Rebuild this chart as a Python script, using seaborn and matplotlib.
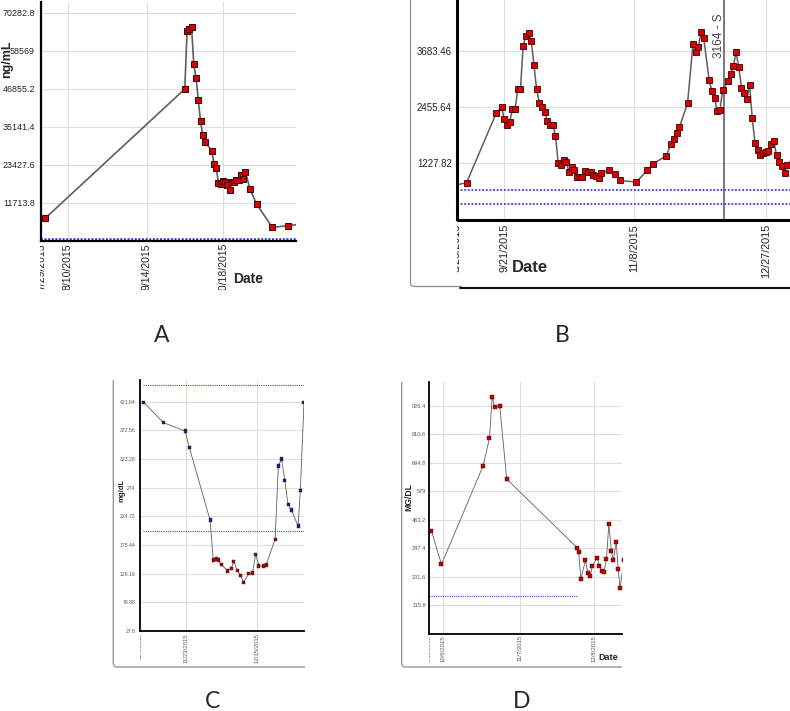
import numpy as np
import pandas as pd
import matplotlib
matplotlib.use('Agg')
import matplotlib.pyplot as plt
import matplotlib.dates as mdates
from matplotlib.patches import Rectangle, PathPatch
from matplotlib.path import Path
import seaborn as sns

# DATA

# panel A  (ng/mL)
a_dates = ['2015-07-31', '2015-10-01', '2015-10-02', '2015-10-03', '2015-10-04', '2015-10-05',
           '2015-10-06', '2015-10-07', '2015-10-08', '2015-10-09', '2015-10-10', '2015-10-13',
           '2015-10-14', '2015-10-15', '2015-10-16', '2015-10-17', '2015-10-18', '2015-10-19',
           '2015-10-20', '2015-10-21', '2015-10-22', '2015-10-23', '2015-10-24', '2015-10-25',
           '2015-10-26', '2015-10-27', '2015-10-28', '2015-10-30', '2015-11-02', '2015-11-09',
           '2015-11-16', '2015-11-30']
a_values = [7090, 46850, 64630, 65350, 66070, 54460, 50350, 43570, 36990, 32570, 30520, 27850,
            23740, 22500, 17780, 17570, 18600, 18080, 17260, 15720, 18080, 18190, 18910, 18700,
            20450, 19010, 21370, 16030, 11300, 4210, 4730, 5900]
a_ref = [600, 300]
a_xticks = ['2015-07-29', '2015-08-10', '2015-09-14', '2015-10-18']
a_xlabels = ['7/29/2015', '8/10/2015', '9/14/2015', '10/18/2015']
a_yticks = [11713.8, 23427.6, 35141.4, 46855.2, 58569, 70282.8]
a_ylabels = ['11713.8', '23427.6', '35141.4', '46855.2', '58569', '70282.8']

# panel B
b_dates = ['2015-08-23', '2015-09-07', '2015-09-18', '2015-09-20', '2015-09-21', '2015-09-22',
           '2015-09-23', '2015-09-24', '2015-09-25', '2015-09-26', '2015-09-27', '2015-09-28',
           '2015-09-29', '2015-09-30', '2015-10-01', '2015-10-02', '2015-10-03', '2015-10-04',
           '2015-10-05', '2015-10-06', '2015-10-07', '2015-10-08', '2015-10-09', '2015-10-10',
           '2015-10-11', '2015-10-12', '2015-10-13', '2015-10-14', '2015-10-15', '2015-10-16',
           '2015-10-17', '2015-10-18', '2015-10-19', '2015-10-20', '2015-10-21', '2015-10-22',
           '2015-10-23', '2015-10-24', '2015-10-25', '2015-10-26', '2015-10-27', '2015-10-30',
           '2015-11-01', '2015-11-03', '2015-11-09', '2015-11-13', '2015-11-15', '2015-11-20',
           '2015-11-22', '2015-11-23', '2015-11-24', '2015-11-25', '2015-11-28', '2015-11-30',
           '2015-12-01', '2015-12-02', '2015-12-03', '2015-12-04', '2015-12-06', '2015-12-07',
           '2015-12-08', '2015-12-09', '2015-12-10', '2015-12-11', '2015-12-13', '2015-12-14',
           '2015-12-15', '2015-12-16', '2015-12-17', '2015-12-18', '2015-12-19', '2015-12-20',
           '2015-12-21', '2015-12-22', '2015-12-23', '2015-12-24', '2015-12-25', '2015-12-26',
           '2015-12-27', '2015-12-28', '2015-12-29', '2015-12-30', '2015-12-31', '2016-01-01',
           '2016-01-02', '2016-01-03', '2016-01-04', '2016-01-06']
b_values = [610, 804, 2324, 2463, 2192, 2075, 2127, 2412, 2412, 2850, 2850, 3800, 4019, 4078,
            3910, 3376, 2850, 2558, 2470, 2353, 2156, 2075, 2075, 1827, 1242, 1191, 1301, 1264,
            1045, 1147, 1082, 935, 935, 935, 1060, 1030, 1030, 972, 950, 899, 1023, 1074, 1001,
            855, 818, 1074, 1213, 1389, 1659, 1769, 1900, 2024, 2543, 3837, 3654, 3764, 4107,
            3968, 3047, 2814, 2667, 2375, 2397, 2828, 3026, 3179, 3362, 3654, 3325, 2887, 2777,
            2631, 2938, 2214, 1681, 1513, 1410, 1462, 1484, 1498, 1644, 1710, 1403, 1257, 1169,
            1023, 1184, 1350]
b_ref = [636, 344]
b_cursor_date = '2015-12-11 12:00'
b_cursor_text = '3164 - S'
b_xticks = ['2015-09-03 11:00', '2015-09-21', '2015-11-08', '2015-12-27']
b_xlabels = ['8/23/2015', '9/21/2015', '11/8/2015', '12/27/2015']
b_yticks = [1227.82, 2455.64, 3683.46]
b_ylabels = ['1227.82', '2455.64', '3683.46']

# panel C  (mg/dL)
c_dates = ['2015-11-09 22:00', '2015-11-16', '2015-11-22 17:00', '2015-11-24', '2015-11-30 10:00',
           '2015-12-01 10:00', '2015-12-02 10:00', '2015-12-03', '2015-12-03 22:00',
           '2015-12-05 22:00', '2015-12-06 22:00', '2015-12-07 19:00', '2015-12-08 19:00',
           '2015-12-09 22:00', '2015-12-10 17:00', '2015-12-12 10:00', '2015-12-13 12:00',
           '2015-12-14 12:00', '2015-12-15 12:00', '2015-12-16 19:00', '2015-12-17 17:00',
           '2015-12-20 12:00', '2015-12-21 12:00', '2015-12-22 12:00', '2015-12-23 12:00',
           '2015-12-24 12:00', '2015-12-25 12:00', '2015-12-27 14:00', '2015-12-28 07:00',
           '2015-12-29 10:00']
c_values = [421.0, 386.0, 371.6, 343.5, 218.5, 149.7, 151.5, 149.7, 141.7, 130.8, 135.4, 146.9,
            131.4, 123.4, 111.3, 126.2, 127.4, 159.5, 139.4, 139.4, 141.1, 185.3, 311.4, 323.5,
            286.2, 244.9, 235.7, 208.2, 269.6, 421.0]
c_ref = [450, 200]
c_xticks = ['2015-11-08 19:00', '2015-11-23', '2015-12-15']
c_xlabels = ['11/9/2015', '11/23/2015', '12/15/2015']
c_yticks = [27.6, 76.88, 126.16, 175.44, 224.72, 274, 323.28, 372.56, 421.84]
c_ylabels = ['27.6', '76.88', '126.16', '175.44', '224.72', '274', '323.28', '372.56', '421.84']

# panel D  (MG/DL)
d_dates = ['2015-10-01', '2015-10-05 05:00', '2015-10-22 14:00', '2015-10-25 07:00',
           '2015-10-26 10:00', '2015-10-27 12:00', '2015-10-29 14:00', '2015-11-01 12:00',
           '2015-11-30 22:00', '2015-12-01 14:00', '2015-12-02 12:00', '2015-12-04 10:00',
           '2015-12-05 10:00', '2015-12-06 10:00', '2015-12-07 07:00', '2015-12-09 07:00',
           '2015-12-10 07:00', '2015-12-11 07:00', '2015-12-12 05:00', '2015-12-13 05:00',
           '2015-12-14 05:00', '2015-12-15 07:00', '2015-12-16 02:00', '2015-12-17 07:00',
           '2015-12-18 02:00', '2015-12-18 22:00', '2015-12-20 12:00']
d_values = [418, 281, 681, 794, 963, 920, 925, 628, 349, 331, 222, 298, 247, 234, 273, 308, 275,
            254, 251, 303, 445, 334, 298, 372, 264, 184, 300]
d_ref = 151
d_ref_end = '2015-11-30 18:00'
d_xticks = ['2015-09-30 03:00', '2015-10-06', '2015-11-07', '2015-12-08']
d_xlabels = ['9/30/2015', '10/6/2015', '11/7/2015', '12/8/2015']
d_yticks = [115.8, 231.6, 347.4, 463.2, 579, 694.8, 810.6, 926.4]
d_ylabels = ['115.8', '231.6', '347.4', '463.2', '579', '694.8', '810.6', '926.4']

panel_letters = ['A', 'B', 'C', 'D']

# STYLE

sns.set_style('white')
plt.rcParams['font.family'] = ['Liberation Sans', 'DejaVu Sans']
NARROW = ['Liberation Sans Narrow', 'Liberation Sans', 'DejaVu Sans']

W, H = 790, 711
GRID = '#dedede'
LINE = '#5e5e5e'
BLUE = '#3a3aff'
RED = '#d80000'
EDGE = '#3a0000'


def to_dt(values):
    return pd.to_datetime(values, format='mixed')


def dn(values):
    return mdates.date2num(to_dt(values).values)


def px_axes(fig, left, top, right, bottom):
    return fig.add_axes([left / W, 1 - bottom / H, (right - left) / W, (bottom - top) / H])


def style_panel(ax, xlim, ylim, xticks, xlabels, yticks, ylabels,
                xfs, yfs, xpad, ypad, spine_w, family, tcolor):
    ax.set_xlim(dn(xlim))
    ax.set_ylim(ylim)
    ax.set_xticks(dn(xticks))
    ax.set_xticklabels(xlabels, rotation=90, ha='center', va='top',
                       fontsize=xfs, family=family, color=tcolor)
    ax.set_yticks(yticks)
    ax.set_yticklabels(ylabels, fontsize=yfs, family=family, color=tcolor)
    ax.tick_params(axis='x', length=0, pad=xpad)
    ax.tick_params(axis='y', length=0, pad=ypad)
    ax.grid(True, color=GRID, lw=0.8)
    ax.set_axisbelow(True)
    ax.set_xlabel('')
    ax.set_ylabel('')
    for s in ['top', 'right']:
        ax.spines[s].set_visible(False)
    for s in ['left', 'bottom']:
        ax.spines[s].set_color('black')
        ax.spines[s].set_linewidth(spine_w)


fig = plt.figure(figsize=(7.9, 7.11), dpi=100)

# PANEL A
ax_a = px_axes(fig, 41, 2, 296, 241)
df_a = pd.DataFrame({'Date': to_dt(a_dates), 'Value': a_values})
for r in a_ref:
    ax_a.axhline(r, color=BLUE, lw=1.3, ls=(0, (1, 1)), zorder=1)
sns.lineplot(data=df_a, x='Date', y='Value', ax=ax_a, color=LINE, lw=1.2,
             marker='s', markersize=4.6, markerfacecolor=RED, markeredgecolor=EDGE,
             markeredgewidth=0.7, estimator=None, errorbar=None)
style_panel(ax_a, ['2015-07-29', '2015-11-19 12:00'], (0, 73670), a_xticks, a_xlabels,
            a_yticks, a_ylabels, 7.5, 6.4, 1.5, 4.3, 1.6, None, '#222222')

# PANEL B
ax_b = px_axes(fig, 457, 0, 790, 219.5)
df_b = pd.DataFrame({'Date': to_dt(b_dates), 'Value': b_values})
for r in b_ref:
    ax_b.axhline(r, color=BLUE, lw=1.3, ls=(0, (1, 1)), zorder=1)
ax_b.axvline(dn([b_cursor_date])[0], color='#555555', lw=1.1, zorder=1)
sns.lineplot(data=df_b, x='Date', y='Value', ax=ax_b, color=LINE, lw=1.1,
             marker='s', markersize=4.0, markerfacecolor=RED, markeredgecolor=EDGE,
             markeredgewidth=0.6, estimator=None, errorbar=None)
style_panel(ax_b, ['2015-09-03 11:00', '2016-01-05'], (0, 4801), b_xticks, b_xlabels,
            b_yticks, b_ylabels, 7.8, 7.0, 3.0, 3.8, 2.2, NARROW, '#222222')

# PANEL C
ax_c = px_axes(fig, 140, 380, 304, 631)
df_c = pd.DataFrame({'Date': to_dt(c_dates), 'Value': c_values})
df_c['Range'] = np.where(df_c['Value'] > c_ref[1], 'high', 'low')
for r in c_ref:
    ax_c.axhline(r, xmin=0.02, color=BLUE, lw=0.8, ls=(0, (1, 1)), zorder=1)
sns.lineplot(data=df_c, x='Date', y='Value', ax=ax_c, color=LINE, lw=0.6,
             estimator=None, errorbar=None)
sns.scatterplot(data=df_c, x='Date', y='Value', hue='Range', ax=ax_c, marker='s', s=5,
                palette={'high': '#1c1c8a', 'low': '#b00000'}, edgecolor='#222222',
                linewidth=0.3, legend=False, zorder=3)
style_panel(ax_c, ['2015-11-08 19:00', '2015-12-29 10:00'], (27.6, 459.3), c_xticks,
            c_xlabels, c_yticks, c_ylabels, 4.3, 3.7, 1.5, 3.0, 1.3, NARROW, '#555555')

# PANEL D
ax_d = px_axes(fig, 429.3, 381.7, 621.7, 633.5)
df_d = pd.DataFrame({'Date': to_dt(d_dates), 'Value': d_values})
ax_d.hlines(d_ref, dn(['2015-09-30 03:00'])[0], dn([d_ref_end])[0], color=BLUE, lw=0.8,
            ls=(0, (1, 1)), zorder=1)
sns.lineplot(data=df_d, x='Date', y='Value', ax=ax_d, color=LINE, lw=0.6,
             marker='s', markersize=2.3, markerfacecolor='#c00000', markeredgecolor=EDGE,
             markeredgewidth=0.3, estimator=None, errorbar=None)
style_panel(ax_d, ['2015-09-30 03:00', '2015-12-19 14:00'], (0, 1024), d_xticks, d_xlabels,
            d_yticks, d_ylabels, 4.3, 4.1, 1.0, 2.4, 1.3, NARROW, '#555555')

# OVERLAY: crops, frames, labels (pixel coords)
ov = fig.add_axes([0, 0, 1, 1], zorder=10)
ov.set_xlim(0, W)
ov.set_ylim(H, 0)
ov.axis('off')

masks = [(0, 242.5, 40.2, 48), (0, 290, 400, 30), (411, 221, 45.6, 64),
         (114, 632.5, 25.6, 34), (100, 667.5, 220, 20), (402.5, 634.5, 26.3, 32),
         (395, 667.5, 240, 20)]
for x, y, w, h in masks:
    ov.add_patch(Rectangle((x, y), w, h, facecolor='white', edgecolor='none'))


def frame_lb(x0, y0, y1, x1, color='#8c8c8c', lw=0.9, r=4):
    verts = [(x0, y0), (x0, y1 - r), (x0, y1), (x0 + r, y1), (x1, y1)]
    codes = [Path.MOVETO, Path.LINETO, Path.CURVE3, Path.CURVE3, Path.LINETO]
    ov.add_patch(PathPatch(Path(verts, codes), fill=False, edgecolor=color, lw=lw))


frame_lb(410.5, 0, 286.5, 462)
ov.plot([460, 790], [287.8, 287.8], color='#111111', lw=1.5)
frame_lb(113.3, 380, 667, 305)
frame_lb(401.7, 382, 667, 622)

ov.text(7, 59, 'ng/mL', rotation=90, ha='center', va='center', fontsize=9, fontweight='bold')
ov.text(248, 279, 'Date', ha='center', va='center', fontsize=10, fontweight='bold')
ov.text(530, 268, 'Date', ha='center', va='center', fontsize=12, fontweight='bold', family=NARROW)
ov.text(719, 58, b_cursor_text, rotation=90, ha='center', va='bottom', fontsize=8.5,
        color='#444444', family=NARROW)
ov.text(121.7, 490, 'mg/dL', rotation=90, ha='center', va='center', fontsize=5.6, fontweight='bold')
ov.text(409.3, 497, 'MG/DL', rotation=90, ha='center', va='center', fontsize=6.2, fontweight='bold')
ov.text(608, 658, 'Date', ha='center', va='center', fontsize=6.5, fontweight='bold', family=NARROW)

letter_pos = [(162, 335), (562, 335), (213, 701), (522, 701)]
for letter, (x, y) in zip(panel_letters, letter_pos):
    ov.text(x, y, letter, ha='center', va='center', fontsize=16.5, family=['Lato', 'DejaVu Sans'])

fig.savefig('out.png', dpi=100)
